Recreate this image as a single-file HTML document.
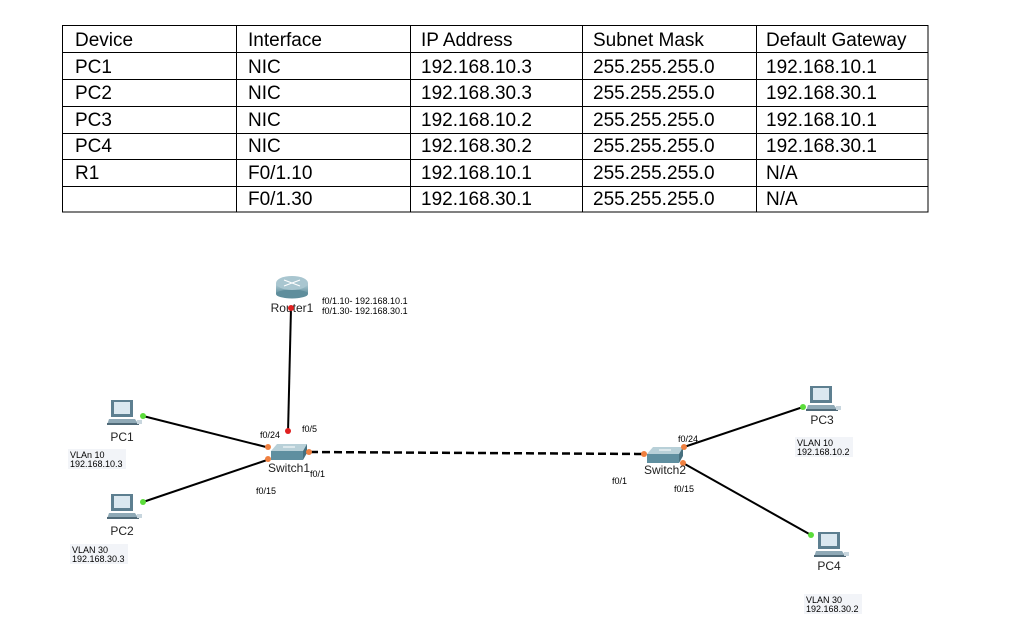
<!DOCTYPE html>
<html><head><meta charset="utf-8"><style>
html,body{margin:0;padding:0;background:#fff;}
svg{display:block;}
.t{font-family:"Liberation Sans",sans-serif;font-size:19px;fill:#000;}
.s{font-family:"Liberation Sans",sans-serif;font-size:9px;fill:#000;}
.l{font-family:"Liberation Sans",sans-serif;font-size:12px;fill:#222;}
</style></head><body>
<svg width="1024" height="641" viewBox="0 0 1024 641" xmlns="http://www.w3.org/2000/svg">
<defs>
<linearGradient id="rg" x1="0" y1="0" x2="0" y2="1"><stop offset="0" stop-color="#b9d3dc"/><stop offset="1" stop-color="#5f8e9c"/></linearGradient>
<g id="pc">
<rect x="0" y="0" width="22" height="17" fill="#5d7f90"/>
<rect x="3" y="2" width="16" height="12" fill="#dbe8f0"/>
<polygon points="-2,19 24,19 28,25 -4,25" fill="#8fa9b6"/>
<rect x="-4" y="23" width="32" height="2" fill="#506a78"/>
<rect x="26" y="20" width="5" height="4" fill="#c8d6de"/>
</g>
<g id="sw">
<polygon points="0,7 6,0 36,0 32,7" fill="#b8d0d8"/>
<rect x="0" y="7" width="32" height="9" fill="#5f8fa0"/>
<polygon points="32,7 36,0 36,9 32,16" fill="#46707f"/>
<line x1="12" y1="3" x2="24" y2="3" stroke="#fff" stroke-width="1"/>
</g>
</defs>
<g stroke="#000" stroke-width="1" fill="none">
<rect x="62.5" y="25.5" width="865.5" height="186.5"/>
<line x1="62" y1="52.5" x2="928" y2="52.5"/>
<line x1="62" y1="79.5" x2="928" y2="79.5"/>
<line x1="62" y1="106.5" x2="928" y2="106.5"/>
<line x1="62" y1="133.5" x2="928" y2="133.5"/>
<line x1="62" y1="159.5" x2="928" y2="159.5"/>
<line x1="62" y1="186.5" x2="928" y2="186.5"/>
<line x1="236.5" y1="25" x2="236.5" y2="212"/>
<line x1="410.5" y1="25" x2="410.5" y2="212"/>
<line x1="582.5" y1="25" x2="582.5" y2="212"/>
<line x1="756.5" y1="25" x2="756.5" y2="212"/>
</g>
<g class="t">
<text x="75" y="46">Device</text><text x="248" y="46">Interface</text><text x="421" y="46">IP Address</text><text x="593" y="46">Subnet Mask</text><text x="766" y="46">Default Gateway</text>
<text x="75" y="73">PC1</text><text x="248" y="73">NIC</text><text x="421" y="73">192.168.10.3</text><text x="593" y="73">255.255.255.0</text><text x="766" y="73">192.168.10.1</text>
<text x="75" y="99">PC2</text><text x="248" y="99">NIC</text><text x="421" y="99">192.168.30.3</text><text x="593" y="99">255.255.255.0</text><text x="766" y="99">192.168.30.1</text>
<text x="75" y="126">PC3</text><text x="248" y="126">NIC</text><text x="421" y="126">192.168.10.2</text><text x="593" y="126">255.255.255.0</text><text x="766" y="126">192.168.10.1</text>
<text x="75" y="152">PC4</text><text x="248" y="152">NIC</text><text x="421" y="152">192.168.30.2</text><text x="593" y="152">255.255.255.0</text><text x="766" y="152">192.168.30.1</text>
<text x="75" y="179">R1</text><text x="248" y="179">F0/1.10</text><text x="421" y="179">192.168.10.1</text><text x="593" y="179">255.255.255.0</text><text x="766" y="179">N/A</text>
<text x="248" y="205">F0/1.30</text><text x="421" y="205">192.168.30.1</text><text x="593" y="205">255.255.255.0</text><text x="766" y="205">N/A</text>
</g>
<g stroke="#000" stroke-width="2" fill="none">
<line x1="291" y1="308" x2="288" y2="433"/>
<line x1="143" y1="416" x2="270" y2="448"/>
<line x1="143" y1="502" x2="270" y2="459"/>
<line x1="310" y1="452" x2="645" y2="454" stroke-dasharray="8,4" stroke-width="2.5"/>
<line x1="684" y1="447" x2="803" y2="407"/>
<line x1="683" y1="463" x2="811" y2="535"/>
</g>
<rect x="276" y="283" width="32" height="11" fill="url(#rg)"/>
<ellipse cx="292" cy="294" rx="16" ry="4.5" fill="#5f8e9c"/>
<ellipse cx="292" cy="283" rx="16" ry="7" fill="#a9c6d0"/>
<path d="M284,280 l16,6 M300,280 l-16,6" stroke="#fff" stroke-width="1"/>
<text class="l" x="292" y="312" text-anchor="middle">Router1</text>
<g fill="#f2f4f8">
<rect x="68" y="449" width="58" height="20"/>
<rect x="70" y="544" width="58" height="20"/>
<rect x="795" y="437" width="58" height="20"/>
<rect x="804" y="594" width="58" height="20"/>
</g>
<text class="s" x="322" y="304">f0/1.10- 192.168.10.1</text>
<text class="s" x="322" y="314">f0/1.30- 192.168.30.1</text>
<use href="#sw" x="271" y="444"/>
<use href="#sw" x="647" y="447"/>
<use href="#pc" x="111" y="400"/>
<use href="#pc" x="111" y="494"/>
<use href="#pc" x="810" y="386"/>
<use href="#pc" x="818" y="532"/>
<g>
<circle cx="291" cy="308" r="3" fill="#e02020"/>
<circle cx="288" cy="431" r="3" fill="#e02020"/>
<circle cx="143" cy="416" r="3" fill="#5bdc3a"/>
<circle cx="143" cy="502" r="3" fill="#5bdc3a"/>
<circle cx="803" cy="407" r="3" fill="#5bdc3a"/>
<circle cx="811" cy="535" r="3" fill="#5bdc3a"/>
<circle cx="268" cy="447" r="3" fill="#f08040"/>
<circle cx="268" cy="459" r="3" fill="#f08040"/>
<circle cx="309" cy="452" r="3" fill="#f08040"/>
<circle cx="644" cy="454" r="3" fill="#f08040"/>
<circle cx="684" cy="447" r="3" fill="#f08040"/>
<circle cx="683" cy="463" r="3" fill="#f08040"/>
</g>
<g class="l">
<text x="122" y="441" text-anchor="middle">PC1</text>
<text x="122" y="535" text-anchor="middle">PC2</text>
<text x="822" y="424" text-anchor="middle">PC3</text>
<text x="829" y="570" text-anchor="middle">PC4</text>
<text x="289" y="472" text-anchor="middle">Switch1</text>
<text x="665" y="474" text-anchor="middle">Switch2</text>
</g>
<g class="s">
<text x="260" y="438">f0/24</text>
<text x="302" y="432">f0/5</text>
<text x="310" y="477">f0/1</text>
<text x="256" y="494">f0/15</text>
<text x="678" y="442">f0/24</text>
<text x="612" y="484">f0/1</text>
<text x="674" y="492">f0/15</text>
<text x="70" y="458">VLAn 10</text><text x="70" y="467">192.168.10.3</text>
<text x="72" y="553">VLAN 30</text><text x="72" y="562">192.168.30.3</text>
<text x="797" y="446">VLAN 10</text><text x="797" y="455">192.168.10.2</text>
<text x="806" y="603">VLAN 30</text><text x="806" y="612">192.168.30.2</text>
</g>
</svg>
</body></html>
